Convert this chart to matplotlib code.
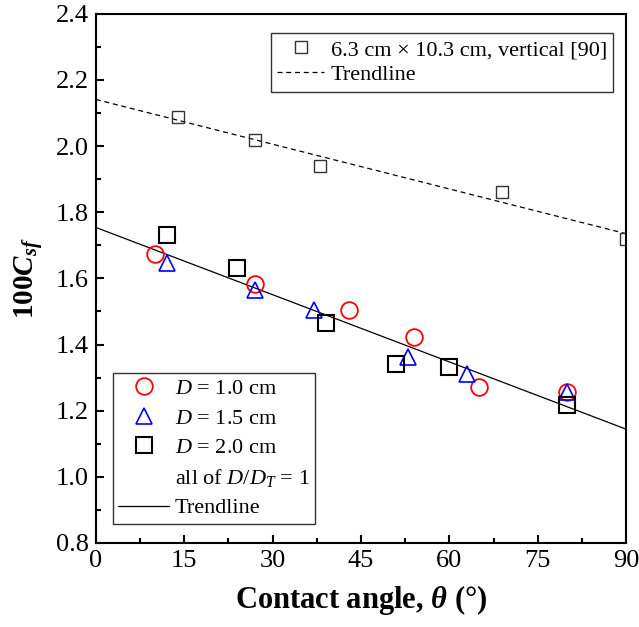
import numpy as np
import matplotlib
matplotlib.use('Agg')
import matplotlib.pyplot as plt
from matplotlib.lines import Line2D
from matplotlib.ticker import MultipleLocator

plt.rcParams['font.family'] = ['Liberation Serif', 'DejaVu Serif']
plt.rcParams['mathtext.fontset'] = 'custom'
plt.rcParams['mathtext.rm'] = 'Liberation Serif'
plt.rcParams['mathtext.it'] = 'Liberation Serif:italic'
plt.rcParams['mathtext.bf'] = 'Liberation Serif:bold'
plt.rcParams['mathtext.bfit'] = 'Liberation Serif:italic:bold'

# data
theta_d10 = [10, 27, 43, 54, 65, 80]
cf_d10 = [1.675, 1.582, 1.505, 1.423, 1.271, 1.256]
theta_d15 = [12, 27, 37, 53, 63, 80]
cf_d15 = [1.648, 1.564, 1.505, 1.362, 1.311, 1.255]
theta_d20 = [12, 24, 39, 51, 60, 80]
cf_d20 = [1.731, 1.632, 1.465, 1.340, 1.331, 1.218]
theta_ref = [14, 27, 38, 69, 90]
cf_ref = [2.089, 2.018, 1.940, 1.860, 1.718]

# trendline end points (theta = 0 and 90)
trend_x = [0, 90]
trend_y = [1.754, 1.144]
trend_ref_y = [2.141, 1.735]

fig = plt.figure(figsize=(6.39, 6.27), dpi=100)
ax = fig.add_axes([0.150, 0.134, 0.830, 0.844])

#trendlines
ax.plot(trend_x, trend_ref_y, color='black', lw=0.9, ls=(0, (4, 3)))
ax.plot(trend_x, trend_y, color='black', lw=0.9)

#reference data
ax.plot(theta_ref, cf_ref, ls='none', marker='s', ms=9, mfc='none', mec='#333333', mew=1.0)

#present data
ax.plot(theta_d10, cf_d10, ls='none', marker='o', ms=12, mfc='none', mec='red', mew=1.3)
ax.plot(theta_d15, cf_d15, ls='none', marker='^', ms=12, mfc='none', mec='blue', mew=1.2)
ax.plot(theta_d20, cf_d20, ls='none', marker='s', ms=11, mfc='none', mec='black', mew=1.5)

ax.set_xlim(0, 90)
ax.set_ylim(0.8, 2.4)
ax.xaxis.set_major_locator(MultipleLocator(15))
ax.xaxis.set_minor_locator(MultipleLocator(7.5))
ax.yaxis.set_major_locator(MultipleLocator(0.2))
ax.yaxis.set_minor_locator(MultipleLocator(0.1))
ax.yaxis.set_major_formatter(matplotlib.ticker.FormatStrFormatter('%.1f'))
ax.tick_params(which='both', direction='in', top=False, right=False, labelsize=19, width=1.5)
ax.tick_params(which='major', length=6, pad=5)
ax.tick_params(which='minor', length=3.5)
for sp in ax.spines.values():
    sp.set_linewidth(1.5)

ax.set_xlabel(r'Contact angle, $\mathbfit{\theta}$ (°)', fontsize=22, fontweight='bold', labelpad=8)
ax.set_ylabel(r'100$\mathbfit{C}_{\mathbfit{sf}}$', fontsize=21, fontweight='bold', labelpad=8)

#legend for present data
h1 = [
    Line2D([], [], ls='none', marker='o', ms=12, mfc='none', mec='red', mew=1.3),
    Line2D([], [], ls='none', marker='^', ms=12, mfc='none', mec='blue', mew=1.2),
    Line2D([], [], ls='none', marker='s', ms=11, mfc='none', mec='black', mew=1.5),
    Line2D([], [], ls='none'),
    Line2D([], [], color='black', lw=0.9),
]
l1 = [r'$D$ = 1.0 cm', r'$D$ = 1.5 cm', r'$D$ = 2.0 cm', r'all of $D/D_T$ = 1', 'Trendline']
leg1 = ax.legend(h1, l1, loc='lower left', bbox_to_anchor=(0.032, 0.036), fontsize=16,
                 frameon=True, fancybox=False, edgecolor='#333333', framealpha=1,
                 handlelength=2.3, handletextpad=0.25, labelspacing=0.4, borderpad=0.25,
                 borderaxespad=0)
leg1.get_frame().set_linewidth(1.0)
ax.add_artist(leg1)

#legend for reference data
h2 = [
    Line2D([], [], ls='none', marker='s', ms=9, mfc='none', mec='#333333', mew=1.0),
    Line2D([], [], color='black', lw=0.9, ls=(0, (4, 3))),
]
l2 = ['6.3 cm × 10.3 cm, vertical [90]', 'Trendline']
leg2 = ax.legend(h2, l2, loc='upper right', bbox_to_anchor=(0.976, 0.964), fontsize=16,
                 frameon=True, fancybox=False, edgecolor='#333333', framealpha=1,
                 handlelength=2.1, handletextpad=0.3, labelspacing=0.2, borderpad=0.3,
                 borderaxespad=0)
leg2.get_frame().set_linewidth(1.0)

fig.savefig('out.png', dpi=100)
